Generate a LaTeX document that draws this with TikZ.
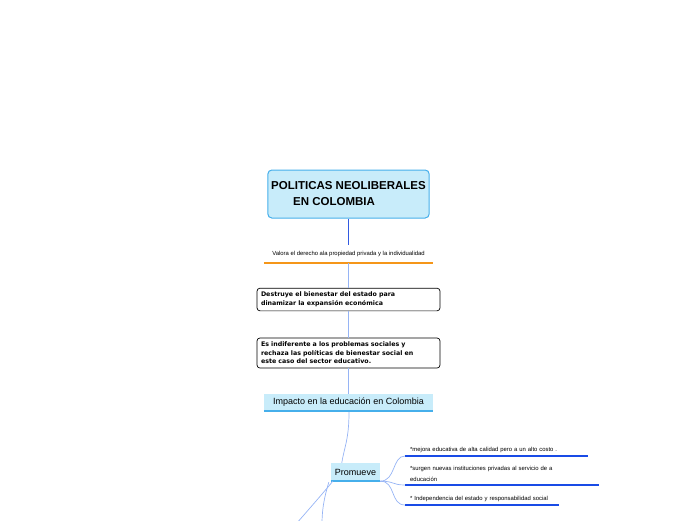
\documentclass[tikz,border=0pt]{standalone}
\usepackage{fontspec}
\setmainfont{Liberation Sans}
\newfontfamily\boxfont{DejaVu Sans}
\usepackage{tikz}
\usetikzlibrary{positioning, calc}
\definecolor{topicfill}{RGB}{200, 236, 250}
\definecolor{topicedge}{RGB}{70, 175, 235}
\definecolor{stemblue}{RGB}{50, 90, 225}
\definecolor{linkblue}{RGB}{150, 180, 245}
\definecolor{underblue}{RGB}{25, 75, 230}
\definecolor{rulerorange}{RGB}{245, 150, 25}
\tikzset{
    titlebox/.style={rectangle, draw=topicedge, line width=1pt, fill=topicfill, rounded corners=4pt, minimum width=161pt, minimum height=48pt, align=left, font=\bfseries\fontsize{11.5}{16}\selectfont},
    ideabox/.style={rectangle, draw=black, line width=0.7pt, fill=white, rounded corners=3pt, text width=175pt, inner sep=4pt, align=left, font=\boxfont\bfseries\fontsize{6.3}{8.6}\selectfont},
    topicbox/.style={rectangle, fill=topicfill, inner sep=2pt, font=\fontsize{9}{11}\selectfont},
    leafnote/.style={rectangle, inner sep=0pt, align=left, font=\fontsize{5.9}{10.8}\selectfont},
    link/.style={draw=linkblue, line width=0.7pt},
    rule/.style={line width=1.8pt}
}
\begin{document}
\begin{tikzpicture}[x=1pt, y=-1pt]
    \useasboundingbox (0,0) rectangle (696,520);

    % Main title and its statements
    \node[titlebox] (title) at (348.5,194) {POLITICAS NEOLIBERALES\\\hspace*{22pt}EN COLOMBIA};
    \node[leafnote, minimum width=169pt, minimum height=18pt, align=center] (valora) at (348.5,254) {Valora el derecho ala propiedad privada y la individualidad};
    \node[ideabox] (destruye) at (348.5,299.5) {Destruye el bienestar del estado para\\dinamizar la expansión económica};
    \node[ideabox] (indiferente) at (348.5,353) {Es indiferente a los problemas sociales y\\rechaza las políticas de bienestar social en\\este caso del sector educativo.};

    % Topics
    \node[topicbox, minimum width=169pt, minimum height=17pt] (impacto) at (348.5,402.5) {Impacto en la educación en Colombia};
    \node[topicbox, minimum width=49pt, minimum height=18pt] (promueve) at (355.5,472) {Promueve};

    % Leaves of Promueve
    \node[leafnote, inner ysep=3.5pt, text width=183pt, anchor=south west] (mejora) at (405,456) {\hspace*{5pt}*mejora educativa de alta calidad pero a un alto costo .};
    \node[leafnote, inner ysep=3.5pt, text width=194pt, anchor=south west] (surgen) at (405,485) {\hspace*{5pt}*surgen nuevas instituciones  privadas al servicio de a\\\hspace*{5pt}educación};
    \node[leafnote, inner ysep=3.5pt, text width=154pt, anchor=south west] (independencia) at (405,505) {\hspace*{5pt}* Independencia del estado y responsabilidad social};

    % Branches leaving the frame
    \coordinate (offleft) at (296,524);
    \coordinate (offright) at (322,524);

    % Underlines
    \draw[rule, rulerorange] (valora.south west) -- (valora.south east);
    \draw[rule, topicedge] (impacto.south west) -- (impacto.south east);
    \draw[rule, topicedge] (promueve.south west) -- (promueve.south east);
    \draw[rule, underblue] (mejora.south west) -- (mejora.south east);
    \draw[rule, underblue] (surgen.south west) -- (surgen.south east);
    \draw[rule, underblue] (independencia.south west) -- (independencia.south east);

    % Connectors
    \draw[stemblue, line width=1pt] (title.south) -- (valora.north);
    \draw[link] (valora.south) -- (destruye.north);
    \draw[link] (destruye.south) -- (indiferente.north);
    \draw[link] (indiferente.south) -- (impacto.north);
    \draw[link] ($(impacto.south)+(0.5,1)$) .. controls (349,440) and (344,448) .. ($(promueve.north west)+(11,0)$);
    \draw[link] (promueve.south east) .. controls (396,481) and (392,456) .. (mejora.south west);
    \draw[link] (promueve.south east) .. controls (394,481) and (392,485) .. (surgen.south west);
    \draw[link] (promueve.south east) .. controls (396,481) and (390,505) .. (independencia.south west);
    \draw[link] ($(promueve.south west)+(2,0)$) .. controls (324,492) and (310,508) .. (offleft);
    \draw[link] ($(promueve.south west)+(-2,1)$) .. controls (326,492) and (322,505) .. (offright);
\end{tikzpicture}
\end{document}
